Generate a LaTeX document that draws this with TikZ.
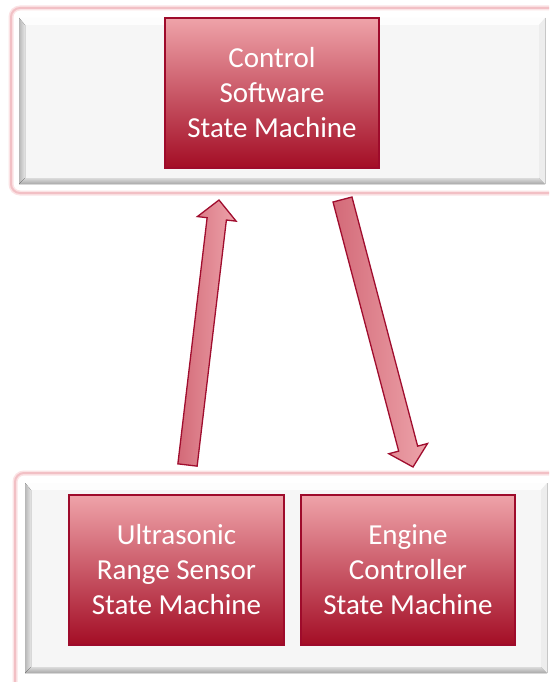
\documentclass[tikz,border=0pt]{standalone}
\usepackage{fontspec}
\setmainfont{Carlito}
\usetikzlibrary{calc}

\definecolor{boxtop}{HTML}{EFA3A9}
\definecolor{boxmid}{HTML}{D08089}
\definecolor{boxbot}{HTML}{A30D25}
\definecolor{boxedge}{HTML}{9E0B2B}
\definecolor{arrowdark}{HTML}{D36A78}
\definecolor{arrowlight}{HTML}{EDA3AA}
\definecolor{arrowedge}{HTML}{A00D2E}
\definecolor{halocol}{HTML}{F2C0C5}
\definecolor{haloglow}{HTML}{FBE3E5}
\definecolor{bevface}{HTML}{F6F6F6}
\definecolor{bevtop}{HTML}{FDFDFD}
\definecolor{bevright}{HTML}{EDEDED}

% raised grey panel with a bevelled rim: x1, y1, x2, y2
\newcommand\bevelpanel[4]{%
  \fill[bevface] (#1,#2) rectangle (#3,#4);
  \fill[bevtop] (#1,#2) -- (#3,#2) -- (#3-6,#2+7) -- (#1+6,#2+7) -- cycle;
  \fill[left color=black!28, right color=black!10]
    (#1,#2) -- (#1+6,#2+7) -- (#1+6,#4-6) -- (#1,#4) -- cycle;
  \fill[top color=black!14, bottom color=black!34]
    (#1,#4) -- (#1+6,#4-6) -- (#3-6,#4-6) -- (#3,#4) -- cycle;
  \fill[bevright] (#3,#2) -- (#3,#4) -- (#3-6,#4-6) -- (#3-6,#2+7) -- cycle;
  \draw[black!22, line width=0.8pt] (#3,#2) -- (#3,#4);
}

\tikzset{
  smbox/.style={draw=boxedge, line width=1.2pt,
    top color=boxtop, middle color=boxmid, bottom color=boxbot,
    minimum width=214pt, minimum height=150pt, inner sep=0pt,
    align=center, text=white, font=\fontsize{29}{35}\selectfont},
  fatarrow/.style={draw=arrowedge, line width=1.3pt,
    left color=arrowdark, right color=arrowlight, line join=miter},
  halo/.style={draw=halocol, line width=2pt, rounded corners=9pt},
  haloblur/.style={draw=haloglow, line width=5pt, rounded corners=9pt},
}

\begin{document}
\begin{tikzpicture}[x=1pt,y=-1pt]
  \clip (0,0) rectangle (549,682);
  \fill[white] (0,0) rectangle (549,682);

  % upper layer container
  \draw[haloblur] (11,8) rectangle (570,193);
  \draw[halo] (11,8) rectangle (570,193);
  \bevelpanel{19}{18}{545}{184}

  % lower layer container
  \draw[haloblur] (15,473) rectangle (570,700);
  \draw[halo] (15,473) rectangle (570,700);
  \bevelpanel{25}{483}{547}{673}

  % state machines
  \node[smbox] (control) at (272,93) {Control\\Software\\State Machine};
  \node[smbox, minimum width=215pt] (sensor) at (176.5,570) {Ultrasonic\\Range Sensor\\State Machine};
  \node[smbox] (engine) at (408,570) {Engine\\Controller\\State Machine};

  % sensor -> control
  \coordinate (upTail) at (187.5,465);
  \coordinate (upTip) at (219,200);
  \coordinate (upNeck) at ($(upTip)!19pt!(upTail)$);
  \draw[fatarrow]
    ($(upTail)!9.7pt!90:(upTip)$) -- ($(upNeck)!9.7pt!90:(upTip)$)
    -- ($(upNeck)!19.5pt!90:(upTip)$) -- (upTip)
    -- ($(upNeck)!19.5pt!-90:(upTip)$) -- ($(upNeck)!9.7pt!-90:(upTip)$)
    -- ($(upTail)!9.7pt!-90:(upTip)$) -- cycle;

  % control -> engine
  \coordinate (downTail) at (342.5,199.5);
  \coordinate (downTip) at (413,467);
  \coordinate (downNeck) at ($(downTip)!19pt!(downTail)$);
  \draw[fatarrow]
    ($(downTail)!9.8pt!90:(downTip)$) -- ($(downNeck)!9.8pt!90:(downTip)$)
    -- ($(downNeck)!20pt!90:(downTip)$) -- (downTip)
    -- ($(downNeck)!20pt!-90:(downTip)$) -- ($(downNeck)!9.8pt!-90:(downTip)$)
    -- ($(downTail)!9.8pt!-90:(downTip)$) -- cycle;
\end{tikzpicture}
\end{document}
